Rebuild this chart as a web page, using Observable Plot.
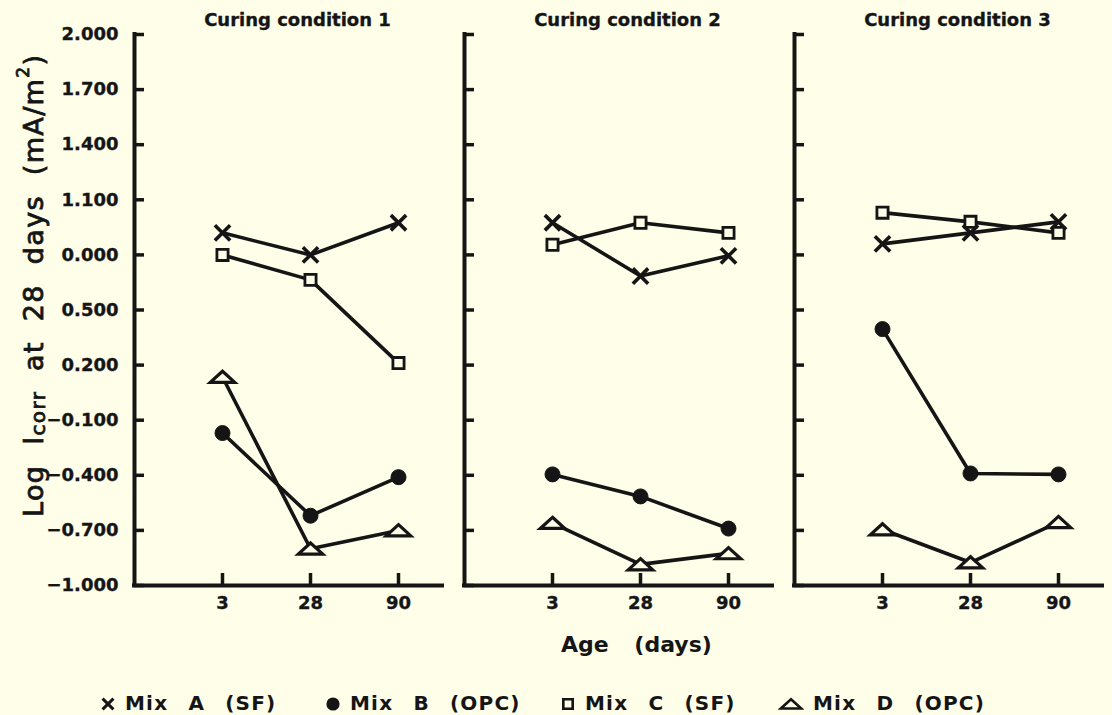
<!DOCTYPE html>
<html><head><meta charset="utf-8">
<script src="https://cdn.jsdelivr.net/npm/d3@7"></script>
<script src="https://cdn.jsdelivr.net/npm/@observablehq/plot@0.6"></script>
<style>
html,body{margin:0;padding:0;background:#fefee9;}
#wrap{position:relative;width:1112px;height:715px;font-family:"DejaVu Sans",sans-serif;font-weight:bold;color:#151515;overflow:hidden;}
#chart svg{display:block;}
#chart svg text{stroke:#151515;stroke-width:0.35px;}
#xlabel{position:absolute;left:561px;top:630px;font-size:22px;line-height:30px;word-spacing:18px;white-space:pre;}
.leg{position:absolute;top:688px;height:30px;line-height:30px;font-size:20px;letter-spacing:1.2px;word-spacing:12px;white-space:pre;display:flex;align-items:center;}
.leg svg{display:block;margin-right:9px;}
</style></head><body>
<div id="wrap"><div id="chart"></div><div id="xlabel">Age (days)</div><div id="legend"></div></div>
<script>
const conditions = ["Curing condition 1", "Curing condition 2", "Curing condition 3"];
const ages = ["3", "28", "90"];
const mixes = ["Mix A (SF)", "Mix B (OPC)", "Mix C (SF)", "Mix D (OPC)"];
// values per condition: [age 3, age 28, age 90]
const mixA = [[0.92, 0.80, 0.975], [0.975, 0.685, 0.795], [0.86, 0.92, 0.98]];
const mixB = [[-0.17, -0.62, -0.41], [-0.395, -0.515, -0.69], [0.396, -0.39, -0.395]];
const mixC = [[0.80, 0.664, 0.211], [0.855, 0.975, 0.92], [1.03, 0.98, 0.92]];
const mixD = [[0.135, -0.80, -0.70], [-0.66, -0.885, -0.825], [-0.695, -0.875, -0.655]];
const yTickValues = [2.0, 1.7, 1.4, 1.1, 0.8, 0.5, 0.2, -0.1, -0.4, -0.7, -1.0];
const yTickLabels = ["2.000", "1.700", "1.400", "1.100", "0.000", "0.500", "0.200", "\u22120.100", "\u22120.400", "\u22120.700", "\u22121.000"];

const ink = "#151515";
const bg = "#fefee9";
const series = [mixA, mixB, mixC, mixD];
const rows = [];
conditions.forEach((c, ci) => mixes.forEach((m, mi) => ages.forEach((a, ai) => {
  rows.push({condition: c, mix: m, ageIndex: ai, age: a, value: series[mi][ci][ai]});
})));

const flatTriangle = {
  draw(context, size) {
    const r = Math.sqrt(size / Math.PI);
    context.moveTo(0, -0.8 * r);
    context.lineTo(1.7 * r, 0.75 * r);
    context.lineTo(-1.7 * r, 0.75 * r);
    context.closePath();
  }
};
const markStyles = [
  {symbol: d3.symbolTimes, r: 7, fill: "none", strokeWidth: 3.6},
  {symbol: "circle", r: 7.5, fill: ink, strokeWidth: 1},
  {symbol: "square", r: 6.3, fill: bg, strokeWidth: 2.8},
  {symbol: flatTriangle, r: 7.2, fill: bg, strokeWidth: 3.2}
];

const xDomain = [-1, 2.5];
const yDomain = [-1, 2];
const ageTicks = ages.map((a, i) => i);
const axisFont = {fontSize: 18, fontWeight: "bold", fontFamily: "DejaVu Sans"};

const chart = Plot.plot({
  width: 1112, height: 620,
  marginLeft: 134, marginRight: 10, marginTop: 34, marginBottom: 35,
  style: {background: "transparent", fontFamily: "DejaVu Sans", fontSize: "18px", fontWeight: "bold", color: ink, overflow: "visible"},
  fx: {domain: conditions, paddingInner: 0.0667, paddingOuter: 0, label: null},
  x: {domain: xDomain, label: null},
  y: {domain: yDomain, label: null},
  marks: [
    Plot.axisFx({anchor: "top", tickSize: 0, tickPadding: 9, dx: 9, label: null, ...axisFont}),
    Plot.axisY({ticks: yTickValues, tickFormat: (d) => yTickLabels[yTickValues.indexOf(d)], tickSize: 0, tickPadding: 16, label: null, ...axisFont}),
    Plot.axisX({ticks: ageTicks, tickFormat: (i) => ages[i], tickSize: 0, tickPadding: 11, label: null, ...axisFont}),
    Plot.ruleX([xDomain[0]], {y1: yDomain[0], y2: yDomain[1], stroke: ink, strokeWidth: 4, strokeLinecap: "square"}),
    Plot.ruleY([yDomain[0]], {x1: xDomain[0], x2: xDomain[1], stroke: ink, strokeWidth: 4, strokeLinecap: "square"}),
    Plot.ruleY(yTickValues, {x1: xDomain[0], x2: xDomain[0], insetRight: -10, stroke: ink, strokeWidth: 3.5}),
    Plot.ruleX(ageTicks, {y1: yDomain[0], y2: yDomain[0], insetTop: -12, stroke: ink, strokeWidth: 3.5}),
    Plot.line(rows, {fx: "condition", x: "ageIndex", y: "value", z: "mix", stroke: ink, strokeWidth: 3.6}),
    ...mixes.map((m, mi) => Plot.dot(rows.filter((d) => d.mix === m), {
      fx: "condition", x: "ageIndex", y: "value",
      symbol: markStyles[mi].symbol, r: markStyles[mi].r,
      fill: markStyles[mi].fill, stroke: ink, strokeWidth: markStyles[mi].strokeWidth
    }))
  ]
});
document.getElementById("chart").appendChild(chart);

// y-axis label with subscript and superscript
const svg = d3.select(chart);
const t = svg.append("text")
  .attr("transform", "translate(43,286) rotate(-90)")
  .attr("text-anchor", "middle")
  .attr("font-size", 27)
  .attr("font-family", "DejaVu Sans")
  .attr("font-weight", "normal")
  .attr("fill", ink)
  .style("stroke", ink)
  .style("stroke-width", "0.8px")
  .attr("textLength", 462)
  .attr("lengthAdjust", "spacing")
  .style("white-space", "pre");
t.append("tspan").text("Log  I");
t.append("tspan").attr("font-size", 20).attr("dy", 2).text("corr");
t.append("tspan").attr("dy", -2).text("  at  28  days  (mA/m");
t.append("tspan").attr("font-size", 17).attr("dy", -14).text("2");
t.append("tspan").attr("dy", 14).text(")");

// legend
const legendX = [100, 325, 560, 778];
const legend = document.getElementById("legend");
mixes.forEach((m, mi) => {
  const item = document.createElement("div");
  item.className = "leg";
  item.style.left = legendX[mi] + "px";
  const w = mi === 3 ? 26 : 16;
  const ns = "http://www.w3.org/2000/svg";
  const s = document.createElementNS(ns, "svg");
  s.setAttribute("width", w); s.setAttribute("height", 20);
  const p = document.createElementNS(ns, "path");
  const st = markStyles[mi];
  const size = Math.PI * (mi === 0 ? 5 : mi === 3 ? 6 : 5.3) ** 2;
  const sym = typeof st.symbol === "string" ? (st.symbol === "circle" ? d3.symbolCircle : d3.symbolSquare) : st.symbol;
  p.setAttribute("d", d3.symbol(sym, size)());
  p.setAttribute("transform", `translate(${w / 2},11)`);
  p.setAttribute("fill", st.fill);
  p.setAttribute("stroke", ink);
  p.setAttribute("stroke-width", mi === 0 ? 3 : 2.6);
  s.appendChild(p);
  item.appendChild(s);
  const span = document.createElement("span");
  span.textContent = m;
  item.appendChild(span);
  legend.appendChild(item);
});
</script>
</body></html>
